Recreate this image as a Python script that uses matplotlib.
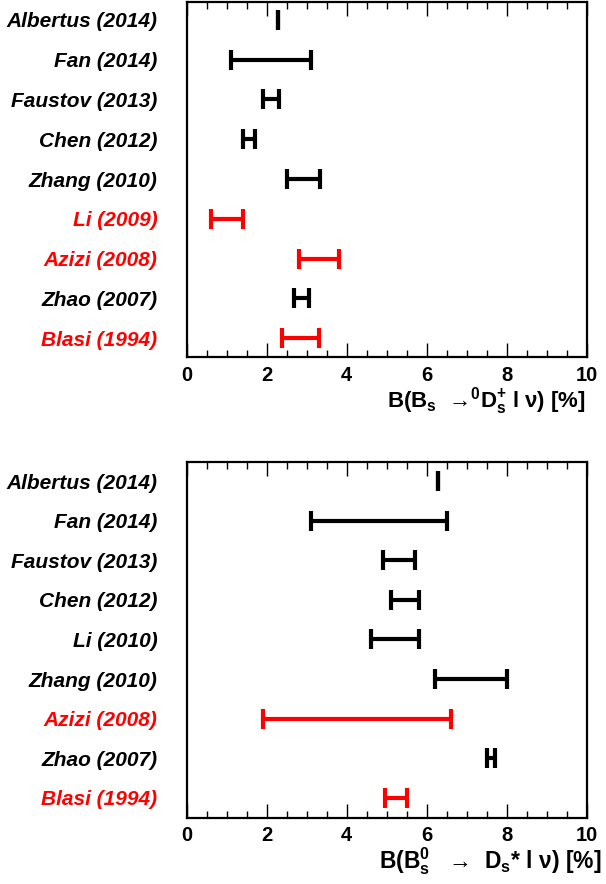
import matplotlib
matplotlib.use("Agg")
import matplotlib.pyplot as plt
from matplotlib.ticker import MultipleLocator

plt.rcParams['font.family'] = ['Liberation Sans', 'DejaVu Sans']
plt.rcParams['mathtext.default'] = 'regular'

# ---- data: top panel  B(Bs -> Ds l nu) [%]
top_labels = ["Albertus (2014)", "Fan (2014)", "Faustov (2013)", "Chen (2012)",
              "Zhang (2010)", "Li (2009)", "Azizi (2008)", "Zhao (2007)", "Blasi (1994)"]
top_low = [2.29, 1.10, 1.90, 1.40, 2.50, 0.60, 2.80, 2.68, 2.38]
top_high = [2.29, 3.10, 2.30, 1.70, 3.32, 1.40, 3.80, 3.05, 3.30]
top_colors = ["black", "black", "black", "black", "black", "red", "red", "black", "red"]

# ---- data: bottom panel  B(Bs -> Ds* l nu) [%]
bot_labels = ["Albertus (2014)", "Fan (2014)", "Faustov (2013)", "Chen (2012)",
              "Li (2010)", "Zhang (2010)", "Azizi (2008)", "Zhao (2007)", "Blasi (1994)"]
bot_low = [6.29, 3.10, 4.90, 5.10, 4.60, 6.20, 1.90, 7.50, 4.95]
bot_high = [6.29, 6.50, 5.70, 5.80, 5.80, 8.00, 6.60, 7.70, 5.50]
bot_colors = ["black", "black", "black", "black", "black", "black", "red", "black", "red"]

xticks = [0, 2, 4, 6, 8, 10]

W, H = 606, 884
fig = plt.figure(figsize=(W / 100, H / 100), dpi=100)

def make_axes(top_px, bottom_px):
    left_px, right_px = 186.7, 586.7
    return fig.add_axes([left_px / W, 1 - bottom_px / H,
                         (right_px - left_px) / W, (bottom_px - top_px) / H])

def draw(ax, labels, low, high, colors, ylim):
    ys = list(range(len(labels)))
    for y, lo, hi, c in zip(ys, low, high, colors):
        mid = (lo + hi) / 2.0
        ax.errorbar([mid], [y], xerr=[[mid - lo], [hi - mid]], fmt='none',
                    ecolor=c, elinewidth=3.0, capsize=7.2, capthick=3.0)
    ax.set_xlim(0, 10)
    ax.set_ylim(*ylim)
    ax.set_yticks(ys)
    ax.set_yticklabels(labels, fontsize=15, fontweight='bold', fontstyle='italic')
    for t, c in zip(ax.get_yticklabels(), colors):
        t.set_color(c)
    ax.tick_params(axis='y', length=0, pad=21)
    ax.set_xticks(xticks)
    ax.set_xticklabels([str(v) for v in xticks], fontsize=14.5, fontweight='bold')
    ax.xaxis.set_minor_locator(MultipleLocator(0.5))
    ax.tick_params(axis='x', which='major', direction='in', length=10, width=1.0,
                   top=True, bottom=True, pad=6)
    ax.tick_params(axis='x', which='minor', direction='in', length=5, width=1.0,
                   top=True, bottom=True)
    for s in ax.spines.values():
        s.set_linewidth(1.6)

ax1 = make_axes(2, 357.3)
draw(ax1, top_labels, top_low, top_high, top_colors, (8.48, -0.45))
ax2 = make_axes(462, 817.7)
draw(ax2, bot_labels, bot_low, bot_high, bot_colors, (8.5, -0.48))

fig.text(586 / W, 1 - 401 / H,
         "B(B$_{s}$  \u2192$^{0}$D$_{s}^{+}$ l \u03bd) [%]",
         ha='right', va='center', fontsize=16, fontweight='bold')
fig.text(601 / W, 1 - 861 / H,
         "B(B$_{s}^{0}$   \u2192  D$_{s}$* l \u03bd) [%]",
         ha='right', va='center', fontsize=16.5, fontweight='bold')

fig.savefig("out.png", dpi=100)
